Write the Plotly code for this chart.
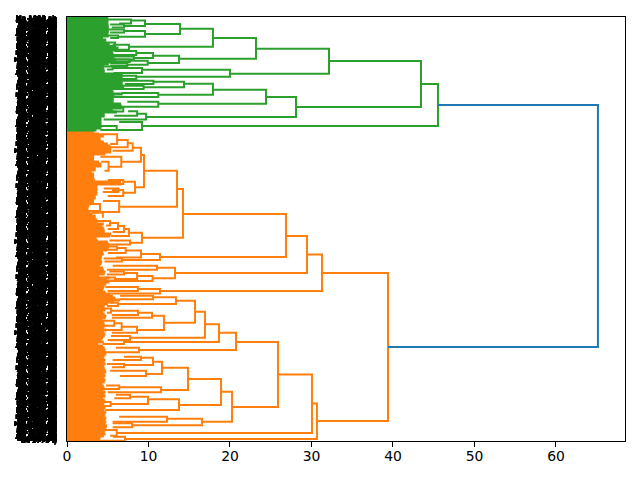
import plotly.graph_objects as go

# Leaves are counted from the top of the plot; each lowest-level pair of leaves
# joins at the distance listed here.
green_pair_heights = [
    4.95, 4.95, 4.95, 4.95, 5.0, 5.0, 5.0, 5.0, 4.95, 5.0,
    4.3, 4.7, 4.6, 5.1, 5.1, 6.2, 6.1, 5.5, 5.6, 5.6,
    5.7, 5.9, 5.9, 5.0, 4.4, 4.4, 4.5, 4.5, 6.7, 6.7,
    6.7, 6.7, 6.7, 6.7, 6.8, 6.9, 5.5, 5.6, 6.7, 5.7,
    5.6, 5.6, 5.6, 6.5, 6.6, 6.6, 5.5, 6.0, 4.5, 4.5,
    4.1, 4.1, 4.1, 4.1, 4.1, 4.1, 3.5,
]
orange_pair_heights = [
    3.2, 3.8, 4.4, 4.0, 4.0, 4.4, 4.9, 5.2, 5.3, 5.3,
    5.3, 4.6, 3.2, 3.2, 3.2, 3.8, 4.1, 4.1, 3.4, 3.4,
    2.9, 3.2, 3.2, 3.2, 3.3, 6.5, 6.5, 3.6, 3.6, 3.6,
    3.6, 3.6, 3.4, 3.4, 3.2, 3.2, 2.8, 2.6, 2.5, 2.5,
    2.7, 3.0, 3.4, 3.4, 3.6, 3.6, 4.4, 4.2, 4.4, 4.5,
    4.5, 5.3, 5.2, 3.5, 3.6, 4.9, 5.0, 5.0, 5.0, 4.8,
    4.3, 4.4, 4.2, 4.1, 4.1, 4.2, 4.1, 3.9, 4.3, 4.4,
    4.6, 4.5, 3.8, 5.0, 4.7, 5.1, 4.7, 4.5, 4.4, 4.3,
    4.6, 5.2, 5.5, 5.8, 6.4, 5.6, 4.9, 4.5, 4.4, 4.6,
    4.3, 4.5, 4.7, 4.6, 4.2, 4.4, 4.5, 4.6, 4.4, 4.7,
    4.4, 4.6, 4.5, 4.3, 4.1, 4.4, 3.7, 4.3, 4.5, 4.6,
    4.6, 4.7, 4.5, 4.4, 4.6, 4.5, 4.6, 4.4, 4.5, 4.6,
    4.7, 4.5, 4.6, 4.4, 4.6, 4.5, 4.2, 4.4, 4.5, 4.3,
    4.6, 4.5, 4.6, 4.3, 4.5, 4.6, 4.4, 4.5, 4.6, 4.4,
    4.7, 4.6, 4.5, 4.7, 4.6, 4.7, 4.6, 4.8, 4.7, 4.6,
    4.5, 4.6, 4.4, 4.0, 3.9,
]

# Upper merges: (upper leaf position, upper child height,
#                lower leaf position, lower child height, merge height)
green_links = [
    (67, 43.44, 109, 9.2, 45.52),
    (44, 32.15, 90, 28.1, 43.44),
    (31.7, 23.19, 56.7, 20.0, 32.15),
    (21, 17.91, 41.7, 13.74, 23.19),
    (11.7, 13.87, 29.7, 7.6, 17.91),
    (7, 9.57, 17, 9.57, 13.87),
    (3.5, 7.85, 9, 7.0, 9.57),
    (2.5, 5.0, 6.5, 6.4, 7.85),
    (7.5, 5.3, 10.5, 5.5, 7.0),
    (14, 7.0, 19.7, 6.26, 9.57),
    (12.5, 5.0, 15.5, 5.3, 7.0),
    (18.5, 5.0, 21, 5.3, 6.26),
    (27.7, 5.6, 32.7, 5.4, 7.6),
    (25.5, 4.4, 29, 4.8, 5.9),
    (38.7, 10.55, 46, 9.9, 13.74),
    (36, 8.5, 41, 8.2, 10.55),
    (43.7, 7.7, 47.7, 7.4, 9.9),
    (34, 5.8, 38, 5.4, 8.5),
    (39.5, 5.4, 42.5, 4.9, 8.2),
    (42.5, 5.0, 45, 5.5, 7.7),
    (46.5, 5.3, 49, 5.3, 7.4),
    (52.7, 9.2, 59.7, 8.5, 20.0),
    (51, 5.6, 56, 5.7, 9.2),
    (49.5, 4.3, 52.5, 4.9, 5.6),
    (58.7, 6.4, 62, 6.0, 8.5),
    (80, 24.42, 100, 9.7, 28.1),
    (72.7, 17.91, 86.7, 11.2, 24.42),
    (66.7, 14.36, 77.7, 11.2, 17.91),
    (64.7, 10.6, 70.3, 9.4, 14.36),
    (63.7, 6.4, 67, 7.1, 10.6),
    (68.7, 6.6, 72, 5.5, 9.4),
    (76, 6.7, 80, 5.6, 11.2),
    (84.7, 7.4, 89.7, 6.5, 11.2),
    (90.5, 5.5, 94.5, 5.3, 6.9),
    (96.7, 8.6, 102.5, 4.5, 9.7),
    (94.3, 7.5, 98.7, 5.8, 8.6),
    (105, 6.4, 113, 6.1, 9.2),
    (109, 4.1, 113, 4.1, 6.1),
]

orange_links = [
    (256, 31.29, 404, 30.67, 39.39),
    (237.5, 29.45, 274, 11.41, 31.29),
    (219, 26.87, 256, 13.25, 29.45),
    (197, 14.23, 240, 11.41, 26.87),
    (172, 13.5, 220.7, 9.2, 14.23),
    (153.7, 9.45, 189.7, 6.4, 13.5),
    (138, 9.08, 170.3, 8.34, 9.45),
    (130.7, 8.06, 144.7, 6.66, 9.08),
    (126.3, 7.45, 133.7, 5.6, 8.06),
    (123, 6.15, 130.3, 5.28, 7.45),
    (117.3, 3.9, 127, 5.3, 6.15),
    (139.7, 4.1, 149.7, 5.1, 6.66),
    (144.7, 4.2, 153.7, 4.6, 5.1),
    (164.7, 6.9, 175.7, 6.9, 8.34),
    (163, 5.0, 167, 5.0, 6.9),
    (173, 5.5, 179, 5.0, 6.9),
    (171.5, 4.5, 175, 4.4, 6.3),
    (184, 4.4, 195, 3.9, 6.4),
    (187, 2.4, 194, 2.4, 4.05),
    (195.7, 3.0, 199.7, 4.3, 4.4),
    (215.7, 7.6, 225.7, 7.73, 9.2),
    (212, 7.0, 219, 5.4, 7.6),
    (209, 6.26, 215, 5.6, 7.0),
    (206, 5.28, 212, 5.0, 6.26),
    (204, 3.7, 208.5, 4.8, 5.28),
    (223.5, 5.2, 227.5, 4.9, 7.73),
    (237, 9.08, 243, 6.75, 11.41),
    (233.5, 7.2, 240.5, 6.0, 9.08),
    (231, 6.15, 236, 5.0, 7.2),
    (229.5, 4.8, 232.7, 4.3, 6.15),
    (241.5, 4.5, 244.5, 4.6, 6.75),
    (250.7, 11.04, 261.3, 10.5, 13.25),
    (248.7, 5.6, 252.7, 4.9, 11.04),
    (259, 8.6, 264, 4.66, 10.5),
    (256, 7.0, 262, 5.9, 8.6),
    (254.5, 5.2, 257.5, 4.9, 7.0),
    (260.5, 4.7, 263.5, 4.2, 5.9),
    (272, 8.7, 276.5, 5.3, 11.41),
    (270, 4.7, 274, 5.0, 8.7),
    (386.5, 30.06, 422, 7.12, 30.67),
    (357.5, 25.89, 416, 6.1, 30.06),
    (325, 20.74, 390, 20.25, 25.89),
    (315.7, 18.65, 333, 8.83, 20.74),
    (307.3, 16.93, 325, 7.0, 18.65),
    (294.7, 15.71, 320.7, 7.73, 16.93),
    (283.7, 13.37, 305.7, 11.9, 15.71),
    (280.3, 10.55, 287, 6.26, 13.37),
    (278.7, 6.5, 282.3, 6.5, 10.55),
    (285.7, 5.3, 289, 4.9, 6.26),
    (298.7, 10.43, 313, 8.59, 11.9),
    (295.7, 8.71, 300.7, 5.5, 10.43),
    (293.7, 5.4, 298, 5.5, 8.71),
    (291.5, 4.4, 295.7, 4.9, 5.4),
    (309.7, 6.71, 315.7, 5.5, 8.59),
    (306.3, 5.8, 313, 4.66, 6.71),
    (303.7, 4.0, 308.7, 4.7, 5.8),
    (319, 5.4, 323, 5.0, 7.73),
    (323.3, 5.3, 327, 4.4, 7.0),
    (330.7, 6.0, 335.3, 4.66, 8.83),
    (374.7, 18.9, 404.7, 16.56, 20.25),
    (362, 14.85, 388, 13.74, 18.9),
    (350.7, 11.66, 373, 11.54, 14.85),
    (344.7, 10.55, 357, 9.7, 11.66),
    (340.7, 9.08, 348, 7.0, 10.55),
    (339.7, 7.0, 343, 5.6, 9.08),
    (347, 4.9, 350.3, 5.5, 7.0),
    (353.7, 5.28, 359, 6.5, 9.7),
    (370.3, 6.4, 375.3, 5.0, 11.54),
    (368.5, 4.8, 372, 4.2, 6.4),
    (382.3, 9.94, 393, 4.7, 13.74),
    (379.7, 7.73, 387, 5.36, 9.94),
    (377.7, 6.0, 381.3, 5.8, 7.73),
    (385, 4.4, 389, 4.5, 5.36),
    (401.7, 12.27, 408.3, 8.0, 16.56),
    (399.7, 6.4, 404.7, 5.6, 12.27),
    (406.3, 5.6, 410.3, 5.6, 8.0),
    (413, 4.0, 418.7, 5.3, 6.1),
    (419.7, 5.64, 423.7, 3.8, 7.12),
]

root_links = [(88, 45.52, 330, 39.39, 65.15)]

x_ticks = [0, 10, 20, 30, 40, 50, 60]
label_heads = ["Ma", "Se", "Au", "Oc", "Ja", "Fe", "Ap"]
label_tails = ["ab", "ks", "mz", "st", "ll", "ge", "hd", "r4", "pq", "fj", "on", "xy", "ag"]


def link_path(links):
    xs, ys = [], []
    for top_pos, top_h, bot_pos, bot_h, merge_h in links:
        xs += [top_h, merge_h, merge_h, bot_h, None]
        ys += [top_pos, top_pos, bot_pos, bot_pos, None]
    return xs, ys


def pair_links(heights, first_leaf):
    return [
        (first_leaf + 2 * i + 0.5, 0, first_leaf + 2 * i + 1.5, 0, h)
        for i, h in enumerate(heights)
    ]


n_leaves = 2 * (len(green_pair_heights) + len(orange_pair_heights))
green_all = pair_links(green_pair_heights, 0) + green_links
orange_all = pair_links(orange_pair_heights, 2 * len(green_pair_heights)) + orange_links
leaf_labels = [
    f"{label_heads[i % 7]} {1000 + (i * 373) % 9000} {label_tails[(i * 5) % 13]}"
    for i in range(n_leaves)
]

fig = go.Figure()
for links, colour in [
    (orange_all, "#ff7f0e"),
    (green_all, "#2ca02c"),
    (root_links, "#1f77b4"),
]:
    xs, ys = link_path(links)
    fig.add_trace(
        go.Scatter(
            x=xs, y=ys, mode="lines", showlegend=False, hoverinfo="skip",
            line=dict(color=colour, width=2),
        )
    )

axis_font = dict(family="DejaVu Sans", size=13.9, color="black")
fig.update_layout(
    template="none",
    width=640,
    height=480,
    margin=dict(l=67, r=15, t=17, b=39, pad=0),
    paper_bgcolor="white",
    plot_bgcolor="white",
    showlegend=False,
    xaxis=dict(
        range=[0, 68.47],
        tickmode="array",
        tickvals=x_ticks,
        ticktext=[str(v) for v in x_ticks],
        ticks="outside",
        ticklen=5,
        tickwidth=1,
        tickcolor="black",
        tickfont=axis_font,
        ticklabelstandoff=-3,
        showgrid=False,
        zeroline=False,
        showline=True,
        linecolor="black",
        linewidth=1,
        mirror=True,
        automargin=False,
    ),
    yaxis=dict(
        range=[n_leaves, 0],
        tickmode="array",
        tickvals=[i + 0.5 for i in range(n_leaves)],
        ticktext=leaf_labels,
        ticks="",
        ticklabelstandoff=8,
        tickfont=dict(family="DejaVu Sans", size=6.3, color="black", weight=700),
        showgrid=False,
        zeroline=False,
        showline=True,
        linecolor="black",
        linewidth=1,
        mirror=True,
        automargin=False,
    ),
)

# Neutral grey anti-aliasing and denser coverage for the tightly stacked leaf labels.
fig.write_html(
    "out.html",
    post_script=(
        "document.querySelectorAll('.yaxislayer-above').forEach(g => g.style.filter = "
        "'grayscale(1) drop-shadow(0 0 0 #000) drop-shadow(0 0 0 #000) drop-shadow(0 0 0 #000)');"
    ),
)
